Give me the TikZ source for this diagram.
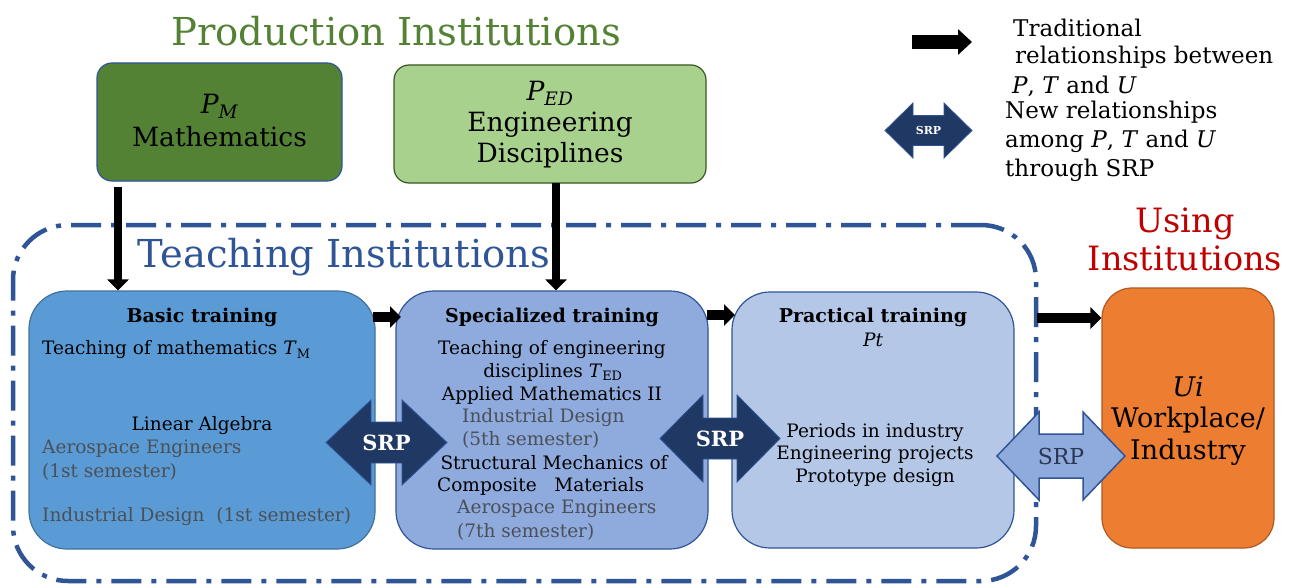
\documentclass[tikz,border=0pt]{standalone}
\usepackage{fontspec}
\setmainfont{DejaVu Serif}
\usetikzlibrary{arrows.meta,calc}
\definecolor{pgreen}{HTML}{548235}
\definecolor{lgreen}{HTML}{A9D18E}
\definecolor{lgdraw}{HTML}{385723}
\definecolor{tblue}{HTML}{2F5597}
\definecolor{ured}{HTML}{C00000}
\definecolor{bfill}{HTML}{5B9BD5}
\definecolor{bdraw}{HTML}{41719C}
\definecolor{sfill}{HTML}{8FAADC}
\definecolor{pfill}{HTML}{B4C7E7}
\definecolor{ofill}{HTML}{ED7D31}
\definecolor{odraw}{HTML}{AE5A21}
\definecolor{navy}{HTML}{203864}
\definecolor{greytxt}{HTML}{4A5058}
\definecolor{srpdark}{HTML}{2B3650}
\newcommand\fatarrow[6]{%
  \path[#1] (#2) ++(-#3,0) -- ++(#4,-#5) -- ++(0,{#5-#6}) -- ++({2*#3-2*#4},0)
    -- ++(0,{-(#5-#6)}) -- ++(#4,#5) -- ++(-#4,#5) -- ++(0,{-(#5-#6)})
    -- ++({-(2*#3-2*#4)},0) -- ++(0,{#5-#6}) -- cycle;}
\begin{document}
\begin{tikzpicture}[x=1pt,y=-1pt,
  box/.style={inner sep=0pt, line width=1.2pt},
  txt/.style={inner sep=0pt, font=\fontsize{18.5}{22}\selectfont},
  bld/.style={inner sep=0pt, font=\fontsize{19}{22}\selectfont\bfseries},
  big/.style={inner sep=0pt, font=\fontsize{26.5}{30}\selectfont},
  ttl/.style={inner sep=0pt, font=\fontsize{38.5}{44}\selectfont},
  leg/.style={inner sep=0pt, anchor=west, font=\fontsize{23}{28}\selectfont},
  gry/.style={txt, text=greytxt},
  blk/.style={line width=10pt, -{Triangle[length=11pt,width=21pt]}},
  srpd/.style={fill=navy, draw=tblue, line width=0.8pt},
  srpt/.style={inner sep=0pt, text=white, font=\fontsize{21}{24}\selectfont\bfseries},
  frame/.style={draw=tblue, line width=4.5pt, rounded corners=55pt,
    dash pattern=on 30pt off 10pt on 5pt off 10pt, inner sep=0pt}
]
\useasboundingbox (0,0) rectangle (1296,586);
\fill[white] (0,0) rectangle (1296,586);

% titles
\node[ttl, text=pgreen] (tprod) at (396,31) {Production Institutions};
\node[ttl, text=tblue] (tteach) at (344,257) {Teaching Institutions};
\node[ttl, text=ured, font=\fontsize{33.5}{38}\selectfont, align=center] (tuse) at (1185,239) {Using\\Institutions};

% teaching frame
\node[frame, minimum width=1023pt, minimum height=356pt] (frame) at (524.5,403) {};

% production boxes
\node[box, fill=pgreen, draw=tblue, rounded corners=15pt, minimum width=245pt, minimum height=118pt] (pm) at (219.5,122) {};
\node[box, fill=lgreen, draw=lgdraw, rounded corners=15pt, minimum width=312pt, minimum height=118pt] (ped) at (550,124) {};
\node[big] (pmsym) at (219.5,106) {\itshape P\textsubscript{M}};
\node[big] (pmtxt) at (219.5,137) {Mathematics};
\node[big] (pedsym) at (550,93) {\itshape P\textsubscript{ED}};
\node[big] (pedtxt1) at (550,125) {Engineering};
\node[big] (pedtxt2) at (550,155) {Disciplines};

% teaching boxes
\node[box, fill=bfill, draw=bdraw, rounded corners=38pt, minimum width=346pt, minimum height=258pt] (basic) at (202,420) {};
\node[box, fill=sfill, draw=tblue, rounded corners=38pt, minimum width=312pt, minimum height=258pt] (spec) at (552,420) {};
\node[box, fill=pfill, draw=tblue, rounded corners=38pt, minimum width=282pt, minimum height=256pt] (prac) at (873,420) {};
\node[box, fill=ofill, draw=odraw, rounded corners=30pt, minimum width=172pt, minimum height=260pt] (ui) at (1188,418) {};

% black arrows
\coordinate (pma) at (118,187);
\coordinate (peda) at (556,183);
\draw[blk, line width=8pt] (pma) -- (pma |- basic.north);
\draw[blk, line width=8pt] (peda) -- (peda |- spec.north);
\coordinate (r1) at (373,317);
\coordinate (r2) at (707,315);
\coordinate (r3) at (1037,318);
\coordinate (e1) at (401,317);
\coordinate (e2) at (735,315);
\draw[blk] (r1) -- (e1);
\draw[blk] (r2) -- (e2);
\draw[blk] (r3) -- (ui.west |- r3);

% basic training texts
\node[bld] (bt) at (202,317) {Basic training};
\node[txt, anchor=west] (bt1) at (42,350) {Teaching of mathematics \textit{T}\textsubscript{M}};
\node[txt] (bt2) at (202,426) {Linear Algebra};
\node[gry, anchor=west] (bt3) at (42,449) {Aerospace Engineers};
\node[gry, anchor=west] (bt4) at (42,472) {(1st semester)};
\node[gry, anchor=west] (bt5) at (42,517) {Industrial Design\ \ (1st semester)};

% specialized texts
\node[bld] (st) at (552,317) {Specialized training};
\node[txt] (st1) at (552,350) {Teaching of engineering};
\node[txt] (st2) at (553,372) {disciplines \textit{T}\textsubscript{ED}};
\node[txt] (st3) at (552,395) {Applied Mathematics II};
\node[gry, anchor=west] (st4) at (462,418) {Industrial Design};
\node[gry, anchor=west] (st5) at (462,440) {(5th semester)};
\node[txt] (st6) at (554,463) {Structural Mechanics of};
\node[txt, anchor=west] (st7) at (437,486) {Composite\ \ \ Materials};
\node[gry, anchor=west] (st8) at (457,509) {Aerospace Engineers};
\node[gry, anchor=west] (st9) at (457,532) {(7th semester)};

% practical texts
\node[bld] (pt) at (873,317) {Practical training};
\node[txt] (pt0) at (873,340) {\itshape Pt};
\node[txt] (pt1) at (875,433) {Periods in industry};
\node[txt] (pt2) at (875,455) {Engineering projects};
\node[txt] (pt3) at (875,478) {Prototype design};

% using texts
\node[big, font=\fontsize{27}{30}\selectfont] (u0) at (1188,387) {\itshape Ui};
\node[big, font=\fontsize{27}{30}\selectfont] (u1) at (1188,420) {Workplace/};
\node[big, font=\fontsize{27}{30}\selectfont] (u2) at (1188,452) {Industry};

% SRP arrows
\coordinate (c1) at (386.5,442.5);
\coordinate (c2) at (720,438.5);
\coordinate (c3) at (1061,456);
\fatarrow{srpd}{c1}{60.5}{45}{42.5}{20.5}
\fatarrow{srpd}{c2}{60}{43}{43.5}{20.5}
\fatarrow{fill=sfill, draw=tblue, line width=1.5pt}{c3}{64}{42}{44}{22}
\node[srpt] (srp1) at (c1) {SRP};
\node[srpt] (srp2) at (c2) {SRP};
\node[srpt, text=srpdark, font=\fontsize{22}{24}\selectfont] (srp3) at (c3) {SRP};

% legend
\coordinate (l1) at (912,42);
\coordinate (l2) at (972,42);
\draw[line width=14pt, -{Triangle[length=14pt,width=25pt]}] (l1) -- (l2);
\coordinate (c4) at (928.5,130.5);
\fatarrow{srpd}{c4}{43.5}{28}{27.5}{15}
\node[srpt, font=\fontsize{11}{13}\selectfont\bfseries] (srp4) at (c4) {SRP};
\node[leg] (lg1) at (1013,28) {Traditional};
\node[leg] (lg2) at (1015,57) {relationships between};
\node[leg] (lg3) at (1012,86) {\textit{P}, \textit{T} and \textit{U}};
\node[leg] (lg4) at (1005,112) {New relationships};
\node[leg] (lg5) at (1005,141) {among \textit{P}, \textit{T} and \textit{U}};
\node[leg] (lg6) at (1005,170) {through SRP};
\end{tikzpicture}
\end{document}
